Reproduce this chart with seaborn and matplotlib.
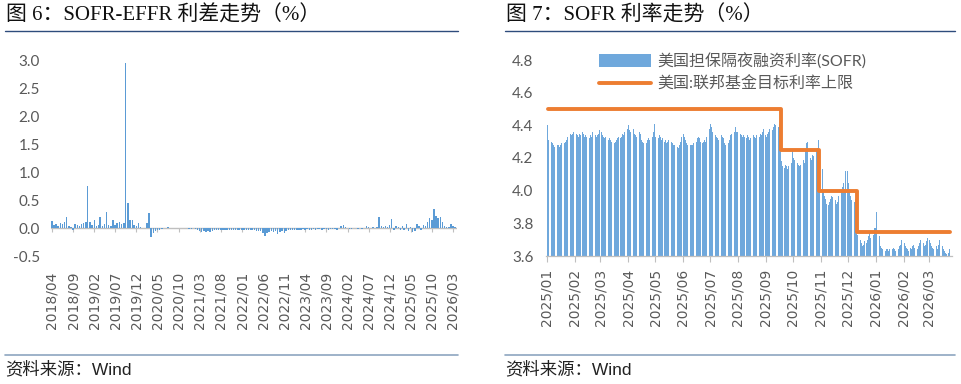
import pandas as pd
import numpy as np
import matplotlib
matplotlib.use('Agg')
import matplotlib.pyplot as plt
import matplotlib.dates as mdates
from matplotlib.lines import Line2D
import seaborn as sns

# SOFR - EFFR spread, two readings per month (1st / 15th), 2018/04 - 2026/03
spread_2018 = [0.13, 0.06, 0.08, 0.05, 0.09, 0.07, 0.12, 0.20, 0.05, 0.03,
               -0.03, 0.07, 0.06, 0.05, 0.08, 0.10, 0.12, 0.75]
spread_2019 = [0.12, 0.06, 0.15, 0.05, 0.06, 0.20, 0.05, 0.08, 0.30, 0.06, 0.05, 0.15,
               0.06, 0.10, 0.12, 0.08, 0.10, 2.95, 0.45, 0.15, 0.15, 0.06, 0.05, 0.10]
spread_2020 = [0.02, 0.01, 0.01, 0.10, 0.28, -0.15, -0.08, -0.04, -0.03, -0.02, -0.01, 0.00,
               0.01, 0.02, 0.01, 0.00, 0.01, 0.00, 0.00, 0.01, 0.00, 0.01, 0.00, -0.01]
spread_2021 = [-0.01, 0.00, -0.01, -0.02, -0.05, -0.06, -0.05, -0.06, -0.05, -0.06, -0.05, -0.03,
               -0.03, -0.03, -0.03, -0.03, -0.03, -0.02, -0.03, -0.03, -0.03, -0.03, -0.03, -0.03]
spread_2022 = [-0.03, -0.03, -0.03, -0.03, -0.03, -0.02, -0.03, -0.04, -0.05, -0.04, -0.08, -0.14,
               -0.09, -0.06, -0.05, -0.06, -0.05, -0.10, -0.06, -0.05, -0.08, -0.04, -0.03, -0.03]
spread_2023 = [-0.03, -0.02, -0.02, -0.02, -0.02, -0.01, -0.02, -0.01, -0.02, -0.02, -0.01, -0.02,
               -0.01, -0.01, -0.02, -0.01, -0.01, -0.02, -0.01, -0.01, -0.01, -0.02, 0.01, 0.05]
spread_2024 = [0.06, 0.03, 0.00, -0.01, -0.01, 0.00, 0.01, -0.01, 0.00, -0.01, 0.01, 0.05,
               0.03, 0.01, 0.02, 0.01, 0.03, 0.20, 0.04, 0.02, 0.05, 0.03, 0.06, 0.16]
spread_2025 = [-0.03, 0.04, 0.02, -0.02, 0.05, -0.03, 0.07, -0.04, 0.03, -0.06, -0.05, 0.08,
               0.05, -0.03, 0.06, 0.04, 0.12, 0.18, 0.15, 0.35, 0.22, 0.18, 0.21, 0.12]
spread_2026 = [0.04, 0.02, 0.03, 0.07, 0.05, 0.02]
spread_start = '2018-04-01'

# SOFR daily fixings (business days), 2025/01/02 - 2026/03
sofr_2025_01 = [4.40, 4.31, 4.30, 4.29, 4.28, 4.27, 4.27, 4.28, 4.28, 4.27, 4.28,
                4.29, 4.28, 4.29, 4.30, 4.31, 4.33, 4.35, 4.34, 4.35, 4.34, 4.36]
sofr_2025_02 = [4.35, 4.34, 4.33, 4.35, 4.34, 4.36, 4.35, 4.33, 4.34, 4.33,
                4.32, 4.34, 4.33, 4.35, 4.36, 4.34, 4.33, 4.34, 4.35, 4.37]
sofr_2025_03 = [4.36, 4.34, 4.33, 4.32, 4.33, 4.31, 4.32, 4.30, 4.31, 4.30, 4.29,
                4.30, 4.31, 4.32, 4.33, 4.32, 4.33, 4.35, 4.34, 4.36, 4.38]
sofr_2025_04 = [4.39, 4.40, 4.37, 4.36, 4.38, 4.35, 4.34, 4.33, 4.34, 4.36, 4.35,
                4.31, 4.30, 4.29, 4.30, 4.29, 4.31, 4.32, 4.31, 4.33, 4.36, 4.41]
sofr_2025_05 = [4.36, 4.33, 4.32, 4.34, 4.33, 4.31, 4.32, 4.30, 4.31, 4.29, 4.30,
                4.31, 4.30, 4.29, 4.28, 4.27, 4.28, 4.27, 4.26, 4.28, 4.30, 4.33]
sofr_2025_06 = [4.35, 4.33, 4.31, 4.29, 4.28, 4.28, 4.28, 4.29, 4.28, 4.29, 4.30,
                4.32, 4.33, 4.32, 4.30, 4.29, 4.30, 4.31, 4.30, 4.33, 4.38]
sofr_2025_07 = [4.45, 4.41, 4.39, 4.36, 4.34, 4.33, 4.32, 4.31, 4.33, 4.34, 4.33, 4.32,
                4.29, 4.28, 4.28, 4.29, 4.31, 4.34, 4.35, 4.36, 4.39, 4.36, 4.37]
sofr_2025_08 = [4.36, 4.35, 4.34, 4.33, 4.34, 4.33, 4.32, 4.34, 4.33, 4.31, 4.32,
                4.34, 4.33, 4.32, 4.35, 4.34, 4.33, 4.35, 4.34, 4.36, 4.38]
sofr_2025_09 = [4.34, 4.33, 4.35, 4.36, 4.38, 4.37, 4.39, 4.40, 4.41, 4.40, 4.39,
                4.41, 4.42, 4.18, 4.15, 4.14, 4.16, 4.15, 4.13, 4.15, 4.17, 4.24]
sofr_2025_10 = [4.24, 4.20, 4.19, 4.17, 4.16, 4.15, 4.16, 4.18, 4.19, 4.17, 4.24, 4.29,
                4.30, 4.23, 4.20, 4.19, 4.22, 4.21, 4.24, 4.26, 4.31, 4.04, 4.22]
sofr_2025_11 = [4.13, 4.00, 3.97, 3.95, 3.92, 3.91, 3.93, 3.95, 3.97, 3.96,
                3.94, 3.92, 3.93, 3.95, 3.97, 3.99, 4.02, 4.05, 4.00, 4.12]
sofr_2025_12 = [4.12, 4.05, 4.01, 3.97, 3.94, 3.93, 3.95, 3.92, 3.75, 3.73, 3.70, 3.68,
                3.66, 3.67, 3.69, 3.68, 3.70, 3.72, 3.74, 3.71, 3.73, 3.76, 3.77]
sofr_2026_01 = [3.77, 3.87, 3.72, 3.66, 3.65, 3.64, 3.64, 3.63, 3.64, 3.64, 3.63,
                3.64, 3.63, 3.64, 3.65, 3.64, 3.63, 3.64, 3.66, 3.67, 3.68, 3.70]
sofr_2026_02 = [3.68, 3.66, 3.65, 3.64, 3.63, 3.65, 3.64, 3.66, 3.67, 3.65,
                3.64, 3.66, 3.68, 3.73, 3.70, 3.68, 3.66, 3.67, 3.69, 3.71]
sofr_2026_03 = [3.70, 3.68, 3.66, 3.65, 3.64, 3.66, 3.64, 3.65, 3.67,
                3.70, 3.66, 3.64, 3.63, 3.62, 3.61, 3.62, 3.64]
sofr_start = '2025-01-02'

# Fed funds target upper bound (step changes)
cap_dates = ['2025-01-02', '2025-09-18', '2025-10-30', '2025-12-11', '2026-03-24']
cap_levels = [4.50, 4.25, 4.00, 3.75, 3.75]

left_ticks = ['2018/04', '2018/09', '2019/02', '2019/07', '2019/12', '2020/05', '2020/10',
              '2021/03', '2021/08', '2022/01', '2022/06', '2022/11', '2023/04', '2023/09',
              '2024/02', '2024/07', '2024/12', '2025/05', '2025/10', '2026/03']
right_ticks = ['2025/01', '2025/02', '2025/03', '2025/04', '2025/05', '2025/06', '2025/07',
               '2025/08', '2025/09', '2025/10', '2025/11', '2025/12', '2026/01', '2026/02',
               '2026/03']

SOFR_LABEL = '美国担保隔夜融资利率(SOFR)'
CAP_LABEL = '美国:联邦基金目标利率上限'

BLUE = '#5B9BD5'
BAR_BLUE = '#6FA8DC'
ORANGE = '#ED7D31'
TICK_GREY = '#595959'
AXIS_GREY = '#BFBFBF'
CJK = ['Lato', 'Noto Sans CJK SC', 'DejaVu Sans']
TITLE_FONT = ['Liberation Serif', 'Noto Sans CJK SC', 'DejaVu Sans']


def to_num(labels) -> np.ndarray:
    """
    Convert 'YYYY/MM' labels into matplotlib date numbers
    """
    return mdates.date2num(pd.to_datetime(labels, format='%Y/%m'))


def style_x_labels(ax, labels, pad) -> None:
    """
    Vertical date labels under the axis
    """
    ax.set_xticks(to_num(labels))
    ax.set_xticklabels(labels, rotation=90, fontsize=10, color=TICK_GREY,
                       family='DejaVu Sans')
    ax.tick_params(axis='x', pad=pad)


sns.set_theme(style='white')
plt.rcParams['font.family'] = CJK

fig = plt.figure(figsize=(9.61, 3.84), dpi=100)

# ---------- left: SOFR-EFFR spread ----------
spread = (spread_2018 + spread_2019 + spread_2020 + spread_2021 + spread_2022 +
          spread_2023 + spread_2024 + spread_2025 + spread_2026)
df_spread = pd.DataFrame({
    'date': pd.date_range(spread_start, periods=len(spread), freq='SMS'),
    'spread': spread,
})
df_spread['x'] = mdates.date2num(df_spread['date'])

ax1 = fig.add_axes([51 / 961, 1 - 256.5 / 384, 406 / 961, 196.5 / 384])
sns.barplot(data=df_spread, x='x', y='spread', native_scale=True, width=0.75,
            color=BLUE, saturation=1, linewidth=0, errorbar=None, ax=ax1)
ax1.axhline(0, color=AXIS_GREY, lw=1, zorder=0)
ax1.set_xlim(mdates.date2num(pd.Timestamp('2018-03-25')),
             mdates.date2num(pd.Timestamp('2026-03-31')))
ax1.set_ylim(-0.5, 3.0)
ax1.set_yticks(np.arange(-0.5, 3.01, 0.5))
ax1.set_yticklabels([f'{v:.1f}' for v in np.arange(-0.5, 3.01, 0.5)])
ax1.tick_params(axis='y', length=0, pad=8, labelsize=11, labelcolor=TICK_GREY)
style_x_labels(ax1, left_ticks, pad=11)
ax1.tick_params(axis='x', length=0)
ax1.set_xlabel('')
ax1.set_ylabel('')
sns.despine(ax=ax1, left=True, bottom=True)

# tick marks sitting on the zero line
zero_axis = ax1.secondary_xaxis(0.5 / 3.5)
zero_axis.set_xticks(to_num(left_ticks))
zero_axis.set_xticklabels([])
zero_axis.tick_params(axis='x', bottom=True, direction='out', length=3,
                      color=AXIS_GREY, width=0.8)
zero_axis.spines['bottom'].set_visible(False)

# ---------- right: SOFR vs fed funds cap ----------
sofr = (sofr_2025_01 + sofr_2025_02 + sofr_2025_03 + sofr_2025_04 + sofr_2025_05 +
        sofr_2025_06 + sofr_2025_07 + sofr_2025_08 + sofr_2025_09 + sofr_2025_10 +
        sofr_2025_11 + sofr_2025_12 + sofr_2026_01 + sofr_2026_02 + sofr_2026_03)
df_sofr = pd.DataFrame({
    'date': pd.bdate_range(sofr_start, periods=len(sofr)),
    'sofr': sofr,
})
df_sofr['x'] = mdates.date2num(df_sofr['date'])
df_cap = pd.DataFrame({'x': mdates.date2num(pd.to_datetime(cap_dates)),
                       'cap': cap_levels})

ax2 = fig.add_axes([546 / 961, 1 - 256 / 384, 405.5 / 961, 196 / 384])
sns.barplot(data=df_sofr, x='x', y='sofr', native_scale=True, width=1.0,
            color=BAR_BLUE, saturation=1, linewidth=0, errorbar=None,
            label=SOFR_LABEL, ax=ax2)
sns.lineplot(data=df_cap, x='x', y='cap', drawstyle='steps-post', color=ORANGE,
             linewidth=2.8, label=CAP_LABEL, ax=ax2)
ax2.set_xlim(mdates.date2num(pd.Timestamp('2024-12-31')),
             mdates.date2num(pd.Timestamp('2026-03-26')))
ax2.set_ylim(3.6, 4.8)
ax2.set_yticks(np.arange(3.6, 4.81, 0.2))
ax2.set_yticklabels([f'{v:.1f}' for v in np.arange(3.6, 4.81, 0.2)])
ax2.tick_params(axis='y', length=0, pad=9, labelsize=11, labelcolor=TICK_GREY)
style_x_labels(ax2, right_ticks, pad=5)
ax2.tick_params(axis='x', bottom=True, direction='out', length=4,
                color=AXIS_GREY, width=0.8)
ax2.set_xlabel('')
ax2.set_ylabel('')
sns.despine(ax=ax2, left=True)
ax2.spines['bottom'].set_color(AXIS_GREY)
ax2.spines['bottom'].set_linewidth(0.9)

# bars first, then the cap line, as in the source legend
handles, labels = ax2.get_legend_handles_labels()
order = [labels.index(SOFR_LABEL), labels.index(CAP_LABEL)]
ax2.legend([handles[i] for i in order], [labels[i] for i in order],
           loc='upper left', bbox_to_anchor=(0.13, 1.035), frameon=False,
           fontsize=11.5, handlelength=3.3, handleheight=0.9, labelspacing=0.45,
           borderpad=0, borderaxespad=0, handletextpad=0.4, labelcolor=TICK_GREY)

# ---------- titles, rules, source notes ----------
for x0, x1, title in [(5, 458, '图 6：SOFR-EFFR 利差走势（%）'),
                      (505, 955, '图 7：SOFR 利率走势（%）')]:
    fig.text(x0 / 961 + 0.001, 1 - 16 / 384, title, va='center', ha='left',
             fontsize=15, color='#111111', family=TITLE_FONT)
    fig.add_artist(Line2D([x0 / 961, x1 / 961], [1 - 31 / 384] * 2,
                          color='#2E4C7C', lw=1))
    fig.add_artist(Line2D([x0 / 961, x1 / 961], [1 - 355 / 384] * 2,
                          color='#8EA6C0', lw=1.2))
    fig.text(x0 / 961, 1 - 369 / 384, '资料来源：Wind', va='center', ha='left',
             fontsize=12.5, color='#222222', family=['Liberation Sans', 'Noto Sans CJK SC'])

fig.savefig('out.png', dpi=100)
